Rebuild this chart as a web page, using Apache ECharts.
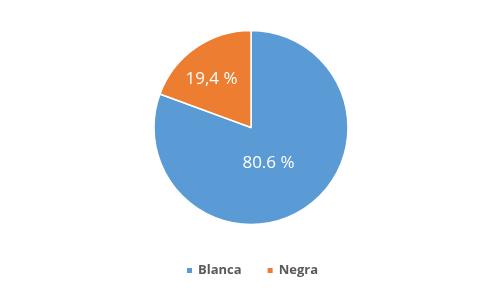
<!DOCTYPE html>
<html><head><meta charset="utf-8">
<script src="https://cdn.jsdelivr.net/npm/echarts@6/dist/echarts.min.js"></script>
<style>html,body{margin:0;padding:0;background:#fff}#c{width:503px;height:291px}</style>
</head><body><div id="c"></div>
<script>
const categories = ["Blanca", "Negra"];
const values = [80.6, 19.4];
const labelTexts = ["80.6 %", "19,4 %"];
const colors = ["#5B9BD5", "#ED7D31"];

const chart = echarts.init(document.getElementById('c'), null, {renderer: 'canvas'});
const labelOffsets = [[-12, -7], [-10, -6]];
chart.setOption({
  animation: false,
  legend: {
    bottom: 9,
    left: 'center',
    icon: 'rect',
    itemWidth: 7,
    itemHeight: 7,
    itemGap: 24,
    textStyle: {color: '#595959', fontSize: 13, fontWeight: 'bold', fontFamily: 'Open Sans'},
    data: categories
  },
  series: [{
    type: 'pie',
    center: [251, 127.5],
    radius: [0, 97],
    startAngle: 90,
    clockwise: true,
    itemStyle: {borderColor: '#fff', borderWidth: 1.5},
    label: {
      position: 'inner',
      color: '#fff',
      fontSize: 17,
      fontFamily: 'Open Sans',
      formatter: p => labelTexts[p.dataIndex]
    },
    labelLine: {show: false},
    emphasis: {disabled: true},
    data: categories.map((c, i) => ({
      name: c, value: values[i],
      itemStyle: {color: colors[i]},
      label: {offset: labelOffsets[i]}
    }))
  }]
});
</script></body></html>
